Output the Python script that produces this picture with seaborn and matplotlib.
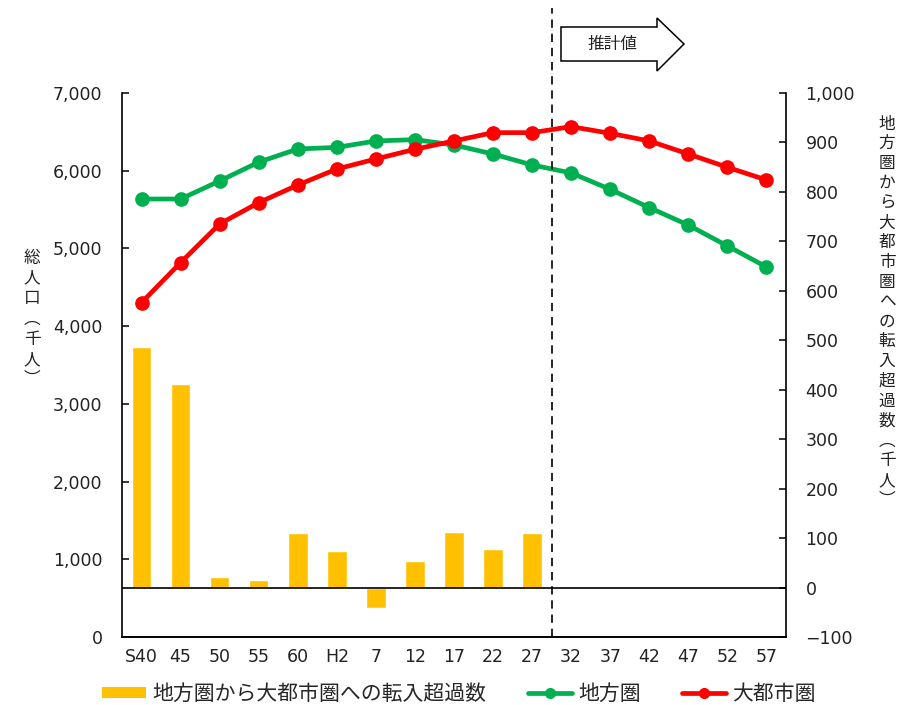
import matplotlib
matplotlib.use("Agg")
import matplotlib.pyplot as plt
from matplotlib.patches import Polygon, Patch
from matplotlib.lines import Line2D
from matplotlib.ticker import FixedLocator, FuncFormatter
import seaborn as sns
import pandas as pd
import numpy as np

# data (千人)
years = ["S40", "45", "50", "55", "60", "H2", "7", "12", "17", "22", "27",
         "32", "37", "42", "47", "52", "57"]
chihou = [5636, 5636, 5868, 6110, 6280, 6300, 6383, 6400, 6331, 6215, 6074,
          5971, 5760, 5525, 5300, 5032, 4761]
daitoshi = [4302, 4817, 5315, 5589, 5816, 6022, 6151, 6276, 6383, 6490, 6490,
            6567, 6481, 6383, 6215, 6044, 5881]
tennyu_years = years[:11]
tennyu = [486, 411, 21, 15, 110, 74, -41, 54, 113, 77, 110]

GREEN = "#00B050"
RED = "#FF0000"
YELLOW = "#FFC000"

sns.set_style("white")
plt.rcParams["font.family"] = ["Noto Sans CJK JP", "DejaVu Sans"]

W, H = 905, 705
fig = plt.figure(figsize=(W / 100, H / 100), dpi=100)
ax = fig.add_axes([122 / W, 1 - 637 / H, (786 - 122) / W, (637 - 93) / H])
ax2 = ax.twinx()

lines_df = pd.DataFrame({"year": years, "地方圏": chihou, "大都市圏": daitoshi})
bars_df = pd.DataFrame({"year": tennyu_years, "value": tennyu})

sns.barplot(data=bars_df, x="year", y="value", order=years, ax=ax2,
            color=YELLOW, saturation=1, width=0.5)
sns.pointplot(data=lines_df, x="year", y="地方圏", order=years, ax=ax,
              color=GREEN, markers="o", markersize=8, linewidth=3.4)
sns.pointplot(data=lines_df, x="year", y="大都市圏", order=years, ax=ax,
              color=RED, markers="o", markersize=8, linewidth=3.4)

# lines above bars
ax.set_zorder(2)
ax2.set_zorder(1)
ax.patch.set_visible(False)

ax.set_xlim(-0.5, len(years) - 0.5)
ax2.set_xlim(-0.5, len(years) - 0.5)
ax.set_ylim(0, 7000)
ax2.set_ylim(-100, 1000)
ax.set_yticks(np.arange(0, 7001, 1000))
ax2.set_yticks(np.arange(-100, 1001, 100))
ax.yaxis.set_major_formatter(FuncFormatter(lambda v, p: f"{int(v):,}"))
ax2.yaxis.set_major_formatter(
    FuncFormatter(lambda v, p: f"{int(v):,}".replace("-", "\u2212")))

ax.set_xlabel("")
ax.set_ylabel("")
ax2.set_xlabel("")
ax2.set_ylabel("")

ax.set_xticks(np.arange(len(years)))
ax.set_xticklabels(years)
ax.xaxis.set_minor_locator(FixedLocator(np.arange(0.5, len(years) - 1, 1)))
ax.tick_params(axis="x", which="major", length=0, pad=8)
ax.tick_params(axis="x", which="minor", direction="in", length=5, width=1.1,
               color="black")
ax.tick_params(axis="y", direction="in", length=5, width=1.1, color="black",
               pad=14, left=True)
ax2.tick_params(axis="y", direction="in", length=5, width=1.1, color="black",
                pad=14, right=True)
ax2.tick_params(axis="x", length=0, labelbottom=False)
for a in (ax, ax2):
    for lab in a.get_xticklabels() + a.get_yticklabels():
        lab.set_fontfamily("DejaVu Sans")
        lab.set_fontsize(12.5)
        lab.set_color("#222222")

for a in (ax, ax2):
    for side in ("left", "right", "bottom"):
        a.spines[side].set_visible(True)
        a.spines[side].set_color("black")
        a.spines[side].set_linewidth(1.2)
    a.spines["top"].set_visible(False)
ax.spines["right"].set_visible(False)
ax2.spines["left"].set_visible(False)

ax2.axhline(0, color="black", lw=1.2, zorder=3)
ax.axvline(10.5, ymin=0, ymax=(637 - 8) / (637 - 93), color="black",
           lw=1.2, ls=(0, (5, 3.5)), clip_on=False)

# vertical (stacked) axis labels
VERT = {"（": "\ufe35", "）": "\ufe36"}


def vertical_label(text, x, y0, step, size=12):
    for i, ch in enumerate(text):
        fig.text(x / W, 1 - (y0 + i * step) / H, VERT.get(ch, ch),
                 ha="center", va="center", fontsize=size, color="#222222")


vertical_label("総人口（千人）", 32, 258, 20.3)
vertical_label("地方圏から大都市圏への転入超過数（千人）", 887, 124, 19.8)

# 推計値 arrow
pts = [(561, 27), (657, 27), (657, 18), (684, 44), (657, 71), (657, 61),
       (561, 61)]
arrow = Polygon([(px / W, 1 - py / H) for px, py in pts], closed=True,
                transform=fig.transFigure, facecolor="white",
                edgecolor="black", lw=1.1)
fig.patches.append(arrow)
fig.text(612 / W, 1 - 44 / H, "推計値", ha="center", va="center",
         fontsize=12, color="#222222")

handles = [
    Patch(facecolor=YELLOW, edgecolor="none"),
    Line2D([], [], color=GREEN, lw=3.4, marker="o", markersize=7),
    Line2D([], [], color=RED, lw=3.4, marker="o", markersize=7),
]
labels = ["地方圏から大都市圏への転入超過数", "地方圏", "大都市圏"]
fig.legend(handles, labels, loc="center", bbox_to_anchor=(459 / W, 1 - 694 / H),
           ncol=3, frameon=False, fontsize=15, handlelength=2.1,
           handleheight=0.45, handletextpad=0.3, columnspacing=2.0,
           borderpad=0)

fig.savefig("out.png", dpi=100)
